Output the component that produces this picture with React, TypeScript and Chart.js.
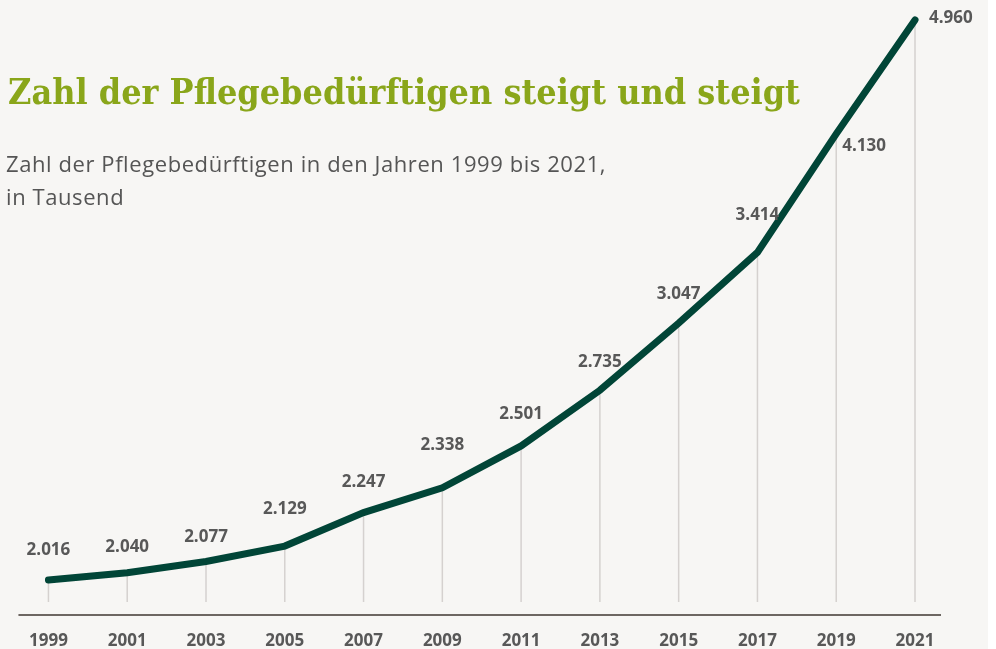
import React, { useEffect, useRef } from 'react';
import { Chart, registerables } from 'chart.js';

Chart.register(...registerables);

// ---- data ----
const YEARS = ['1999', '2001', '2003', '2005', '2007', '2009', '2011', '2013', '2015', '2017', '2019', '2021'];
const VALUES = [2016, 2040, 2077, 2129, 2247, 2338, 2501, 2735, 3047, 3414, 4130, 4960];
const TITLE = 'Zahl der Pflegebedürftigen steigt und steigt';
const SUBTITLE = ['Zahl der Pflegebedürftigen in den Jahren 1999 bis 2021,', 'in Tausend'];

// label placement relative to each point (style only)
const LABEL_DX = [0, 0, 0, 0, 0, 0, 0, 0, 0, 0, 6, 14];
const LABEL_DY = [-30, -25, -24, -37, -30, -43, -32, -28, -29, -37, 12, -2];
const LABEL_ALIGN: CanvasTextAlign[] = ['center', 'center', 'center', 'center', 'center', 'center', 'center', 'center', 'center', 'center', 'left', 'left'];

const LINE_COLOR = '#014537';
const TEXT_GREY = '#585858';
const GREEN = '#8aa61a';
const BG = '#f7f6f4';

const fmt = (v: number) => String(v).replace(/\B(?=(\d{3})+(?!\d))/g, '.');

const decorPlugin = {
  id: 'decor',
  beforeDatasetsDraw(chart: any) {
    const { ctx, chartArea } = chart;
    const meta = chart.getDatasetMeta(0);
    ctx.save();
    ctx.strokeStyle = '#d5d1cf';
    ctx.lineWidth = 1.5;
    meta.data.forEach((pt: any) => {
      ctx.beginPath();
      ctx.moveTo(pt.x, pt.y);
      ctx.lineTo(pt.x, chartArea.bottom);
      ctx.stroke();
    });
    ctx.strokeStyle = '#6d6762';
    ctx.lineWidth = 2;
    ctx.beginPath();
    ctx.moveTo(chartArea.left - 30, chartArea.bottom + 13);
    ctx.lineTo(chartArea.right + 26, chartArea.bottom + 13);
    ctx.stroke();
    ctx.restore();
  },
  afterDatasetsDraw(chart: any) {
    const { ctx } = chart;
    const meta = chart.getDatasetMeta(0);
    ctx.save();
    ctx.font = 'bold 17px "Open Sans", sans-serif';
    ctx.fillStyle = TEXT_GREY;
    ctx.textBaseline = 'middle';
    meta.data.forEach((pt: any, i: number) => {
      ctx.textAlign = LABEL_ALIGN[i];
      ctx.fillText(fmt(VALUES[i]), pt.x + LABEL_DX[i], pt.y + LABEL_DY[i]);
    });
    ctx.restore();
  },
};

export default function App() {
  const canvasRef = useRef<HTMLCanvasElement | null>(null);
  const titleRef = useRef<HTMLDivElement | null>(null);

  useEffect(() => {
    document.body.style.margin = '0';
    const t = titleRef.current;
    if (t) {
      t.style.transform = 'none';
      const w = t.scrollWidth;
      if (w > 0) t.style.transform = `scaleX(${792 / w})`;
    }
    const canvas = canvasRef.current;
    if (!canvas) return;
    const chart = new Chart(canvas, {
      type: 'line',
      data: {
        labels: YEARS,
        datasets: [
          {
            data: VALUES,
            borderColor: LINE_COLOR,
            borderWidth: 7,
            borderCapStyle: 'round',
            borderJoinStyle: 'miter',
            pointRadius: 0,
            pointHoverRadius: 0,
            tension: 0,
            fill: false,
            clip: false,
          },
        ],
      },
      options: {
        animation: false,
        responsive: false,
        maintainAspectRatio: false,
        events: [],
        layout: { padding: { left: 47, right: 81, top: 20, bottom: 2 } },
        plugins: { legend: { display: false }, tooltip: { enabled: false }, title: { display: false } },
        scales: {
          x: {
            type: 'category',
            offset: false,
            grid: { display: false, drawTicks: false },
            border: { display: false },
            ticks: {
              color: TEXT_GREY,
              font: { family: '"Open Sans", sans-serif', size: 17, weight: 'bold' },
              padding: 29,
              autoSkip: false,
              maxRotation: 0,
            },
            afterFit: (scale: any) => {
              scale.height = 45;
            },
          },
          y: {
            type: 'logarithmic',
            display: false,
            min: 1946,
            max: 4960,
            bounds: 'data',
          },
        },
      },
      plugins: [decorPlugin],
    });
    return () => chart.destroy();
  }, []);

  return (
    <div style={{ position: 'fixed', left: 0, top: 0, width: 996, height: 649, background: '#ffffff', overflow: 'hidden' }}>
      <div style={{ position: 'absolute', left: 0, top: 0, width: 988, height: 649, background: BG }} />
      <canvas ref={canvasRef} width={996} height={649} style={{ position: 'absolute', left: 0, top: 0, width: 996, height: 649 }} />
      <div
        ref={titleRef}
        style={{
          position: 'absolute',
          left: 8,
          top: 73,
          whiteSpace: 'nowrap',
          font: 'bold 36px "DejaVu Serif", serif',
          lineHeight: '36px',
          color: GREEN,
          transformOrigin: '0 0',
          display: 'inline-block',
        }}
      >
        {TITLE}
      </div>
      <div
        style={{
          position: 'absolute',
          left: 6,
          top: 147,
          font: '22px "Open Sans", sans-serif',
          letterSpacing: '0.58px',
          lineHeight: '33px',
          color: '#555555',
          whiteSpace: 'nowrap',
        }}
      >
        {SUBTITLE.map((s, i) => (
          <div key={i}>{s}</div>
        ))}
      </div>
    </div>
  );
}
